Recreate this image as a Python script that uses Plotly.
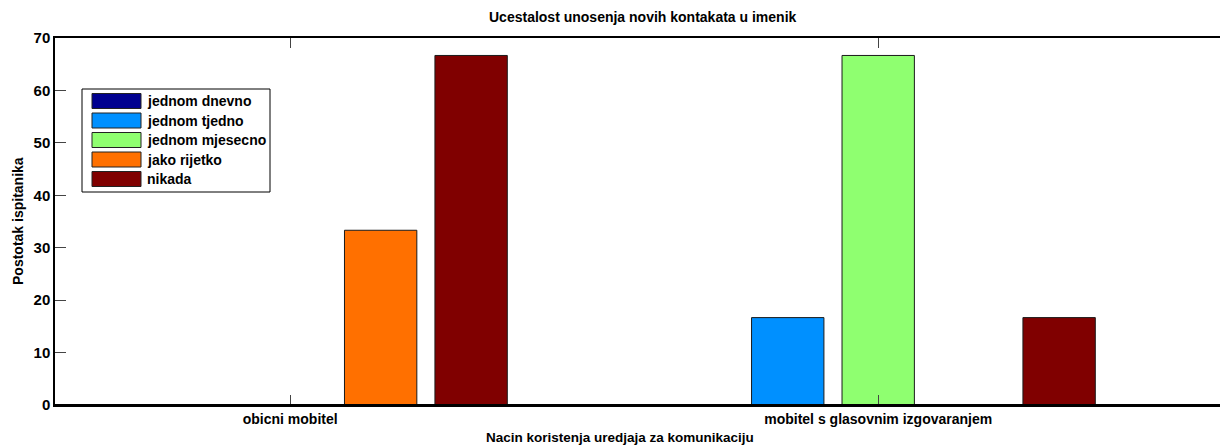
import plotly.graph_objects as go

categories = ["obicni mobitel", "mobitel s glasovnim izgovaranjem"]
series_names = ["jednom dnevno", "jednom tjedno", "jednom mjesecno", "jako rijetko", "nikada"]
jednom_dnevno = [0.0, 0.0]
jednom_tjedno = [0.0, 16.67]
jednom_mjesecno = [0.0, 66.67]
jako_rijetko = [33.33, 0.0]
nikada = [66.67, 16.67]
series_values = [jednom_dnevno, jednom_tjedno, jednom_mjesecno, jako_rijetko, nikada]
colors = ["#00008F", "#0090FF", "#8FFF70", "#FF7000", "#800000"]
y_ticks = [0, 10, 20, 30, 40, 50, 60, 70]

W, H = 1220, 446
L, R, T, B = 55, 1220, 38, 405
FONT = "Liberation Sans, Arial, sans-serif"

def px(x):
    return (x - L) / (R - L)

def py(y):
    return (B - y) / (B - T)

xpos = [1, 2]
fig = go.Figure()
for name, vals, col in zip(series_names, series_values, colors):
    fig.add_trace(go.Bar(
        x=xpos, y=vals, name=name, marker=dict(color=col, line=dict(color="#1a1a1a", width=1)),
        showlegend=False,
    ))

px_per_unit = 588.0
x_range = [0.6, 0.6 + (R - L) / px_per_unit]

shapes = []
annotations = []
# baseline at zero
shapes.append(dict(type="line", xref="paper", yref="y", x0=0, x1=1, y0=0, y1=0,
                   line=dict(color="black", width=2)))
# custom MATLAB-style legend
lx0, lx1, ly0, ly1 = 82, 270, 89, 192
shapes.append(dict(type="rect", xref="paper", yref="paper", x0=px(lx0), x1=px(lx1),
                   y0=py(ly1), y1=py(ly0), line=dict(color="black", width=1), fillcolor="white"))
entry_y = [101, 120.5, 140, 159.5, 179]
for name, col, ey in zip(series_names, colors, entry_y):
    shapes.append(dict(type="rect", xref="paper", yref="paper", x0=px(92), x1=px(141),
                       y0=py(ey + 7.5), y1=py(ey - 7.5), line=dict(color="#222", width=1),
                       fillcolor=col))
    annotations.append(dict(text=name, xref="paper", yref="paper", x=px(145), y=py(ey),
                            xanchor="left", yanchor="middle", showarrow=False,
                            font=dict(family=FONT, size=14, color="black", weight="bold")))

annotations.append(dict(text="Nacin koristenja uredjaja za komunikaciju", xref="paper", yref="paper",
                        x=px(620), y=py(437), xanchor="center", yanchor="middle", showarrow=False,
                        font=dict(family=FONT, size=13.5, color="black", weight="bold")))
annotations.append(dict(text="Postotak ispitanika", xref="paper", yref="paper",
                        x=px(18), y=py(221), xanchor="center", yanchor="middle", showarrow=False,
                        textangle=-90,
                        font=dict(family=FONT, size=14, color="black", weight="bold")))
annotations.append(dict(text="Ucestalost unosenja novih kontakata u imenik", xref="paper", yref="paper",
                        x=px(643), y=py(17), xanchor="center", yanchor="middle", showarrow=False,
                        font=dict(family=FONT, size=14, color="black", weight="bold")))

fig.update_layout(
    width=W, height=H,
    margin=dict(l=L, r=W - R, t=T, b=H - B, pad=0),
    paper_bgcolor="white", plot_bgcolor="white",
    barmode="group", bargap=0.2308, bargroupgap=0.2,
    showlegend=False,
    shapes=shapes, annotations=annotations,
    font=dict(family=FONT, size=14, color="black"),
)
fig.update_xaxes(
    range=x_range, tickvals=xpos, ticktext=categories,
    showgrid=False, zeroline=False,
    showline=True, linecolor="black", linewidth=1.5, mirror="ticks",
    ticks="inside", ticklen=10, tickcolor="#444", tickwidth=1,
    tickfont=dict(family=FONT, size=14, color="black", weight="bold"),
)
fig.update_yaxes(
    range=[0, 70], tickvals=y_ticks,
    showgrid=False, zeroline=False,
    showline=True, linecolor="black", linewidth=1.5, mirror=False,
    ticks="inside", ticklen=11, tickcolor="#444", tickwidth=1,
    tickfont=dict(family=FONT, size=15, color="black", weight="bold"),
)

fig.write_html("out.html", config={"displayModeBar": False},
               post_script="document.body.style.margin='0';document.body.style.overflow='hidden';")
